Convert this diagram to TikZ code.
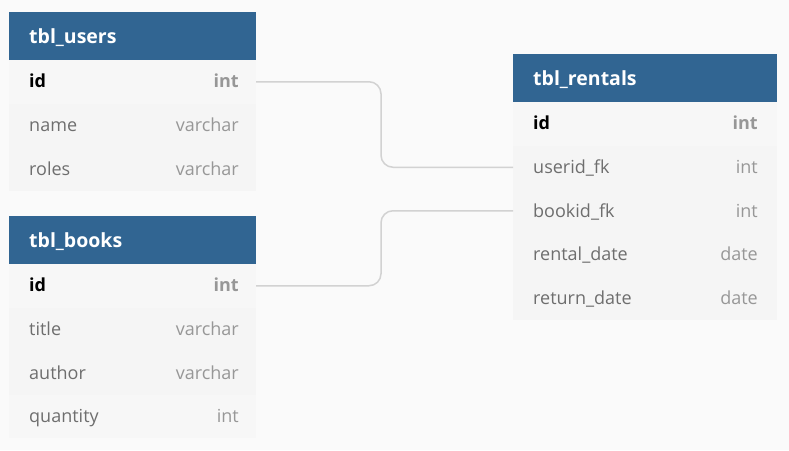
\documentclass[tikz,border=0pt]{standalone}
\usepackage{fontspec}
\setmainfont{Open Sans}
\definecolor{bgc}{HTML}{FAFAFA}
\definecolor{hdr}{HTML}{316592}
\definecolor{rowa}{HTML}{F7F7F7}
\definecolor{rowb}{HTML}{F5F5F5}
\definecolor{fname}{HTML}{6E6E6E}
\definecolor{ftype}{HTML}{979797}
\definecolor{lnk}{HTML}{D2D2D2}
\begin{document}
\begin{tikzpicture}[x=1pt,y=-1pt,
  hdrbox/.style={fill=hdr,draw=none,anchor=north west,minimum height=48pt,inner sep=0pt,outer sep=0pt},
  rowbox/.style={fill=rowb,draw=none,anchor=north west,minimum height=43.5pt,inner sep=0pt,outer sep=0pt},
  keyrow/.style={rowbox,fill=rowa},
  ttl/.style={anchor=base west,inner sep=0pt,text=white,font=\fontsize{19.5}{22}\selectfont\bfseries},
  fld/.style={anchor=base west,inner sep=0pt,text=fname,font=\fontsize{18}{21}\selectfont},
  typ/.style={anchor=base east,inner sep=0pt,text=ftype,font=\fontsize{18}{21}\selectfont},
  keyfld/.style={fld,text=black,font=\fontsize{18}{21}\selectfont\bfseries},
  keytyp/.style={typ,font=\fontsize{18}{21}\selectfont\bfseries},
  link/.style={draw=lnk,line width=1.5pt,rounded corners=12pt}]
\useasboundingbox[fill=bgc] (0,0) rectangle (789,450);
% ---- tbl_users
\node[hdrbox,minimum width=247pt] (uh) at (9,12) {};
\node[keyrow,minimum width=247pt] (u1) at (9,60) {};
\node[rowbox,minimum width=247pt] (u2) at (9,103.5) {};
\node[rowbox,minimum width=247pt] (u3) at (9,147) {};
\node[ttl] (uht) at (29,43.3) {tbl\_users};
\node[keyfld] (u1n) at (29,87.5) {id};
\node[keytyp] (u1t) at (239,87.5) {int};
\node[fld] (u2n) at (29,131.5) {name};
\node[typ] (u2t) at (239,131.5) {varchar};
\node[fld] (u3n) at (29,175) {roles};
\node[typ] (u3t) at (239,175) {varchar};
% ---- tbl_books
\node[hdrbox,minimum width=247pt] (bh) at (9,216) {};
\node[keyrow,minimum width=247pt] (b1) at (9,264) {};
\node[rowbox,minimum width=247pt] (b2) at (9,307.5) {};
\node[rowbox,minimum width=247pt] (b3) at (9,351) {};
\node[keyrow,minimum width=247pt] (b4) at (9,394.5) {};
\node[ttl] (bht) at (29,247.3) {tbl\_books};
\node[keyfld] (b1n) at (29,291.5) {id};
\node[keytyp] (b1t) at (239,291.5) {int};
\node[fld] (b2n) at (29,335.5) {title};
\node[typ] (b2t) at (239,335.5) {varchar};
\node[fld] (b3n) at (29,379) {author};
\node[typ] (b3t) at (239,379) {varchar};
\node[fld] (b4n) at (29,422.5) {quantity};
\node[typ] (b4t) at (239,422.5) {int};
% ---- tbl_rentals
\node[hdrbox,minimum width=264pt] (rh) at (513,54) {};
\node[keyrow,minimum width=264pt] (r1) at (513,102) {};
\node[rowbox,minimum width=264pt] (r2) at (513,145.5) {};
\node[rowbox,minimum width=264pt] (r3) at (513,189) {};
\node[rowbox,minimum width=264pt] (r4) at (513,232.5) {};
\node[rowbox,minimum width=264pt] (r5) at (513,276) {};
\node[ttl] (rht) at (533,85.3) {tbl\_rentals};
\node[keyfld] (r1n) at (533,129.5) {id};
\node[keytyp] (r1t) at (758,129.5) {int};
\node[fld] (r2n) at (533,173.5) {userid\_fk};
\node[typ] (r2t) at (758,173.5) {int};
\node[fld] (r3n) at (533,217) {bookid\_fk};
\node[typ] (r3t) at (758,217) {int};
\node[fld] (r4n) at (533,260.5) {rental\_date};
\node[typ] (r4t) at (758,260.5) {date};
\node[fld] (r5n) at (533,304) {return\_date};
\node[typ] (r5t) at (758,304) {date};
% ---- connectors
\coordinate (mid) at (381,0);
\draw[link] (u1.east) -- (u1.east -| mid) -- (r2.west -| mid) -- (r2.west);
\draw[link] (b1.east) -- (b1.east -| mid) -- (r3.west -| mid) -- (r3.west);
\end{tikzpicture}
\end{document}
